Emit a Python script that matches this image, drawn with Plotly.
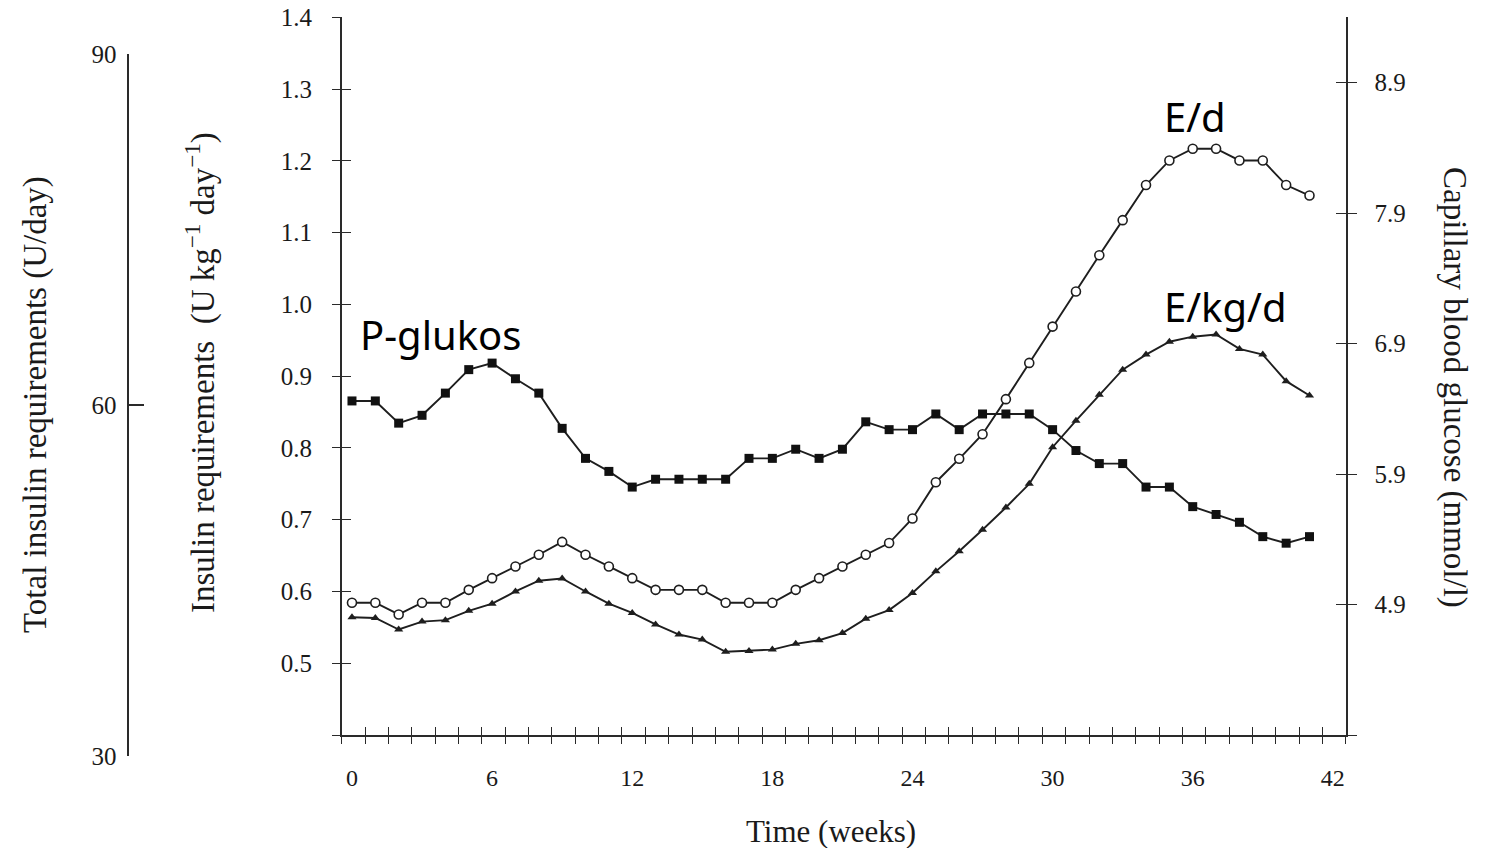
import plotly.graph_objects as go

# Weekly observations through pregnancy
weeks = list(range(42))

# Capillary blood glucose (mmol/l) - filled squares, right axis
glucose_mmol = [6.46, 6.46, 6.29, 6.35, 6.52, 6.70, 6.75, 6.63, 6.52, 6.25,
                6.02, 5.92, 5.80, 5.86, 5.86, 5.86, 5.86, 6.02, 6.02, 6.09,
                6.02, 6.09, 6.30, 6.24, 6.24, 6.36, 6.24, 6.36, 6.36, 6.36,
                6.24, 6.08, 5.98, 5.98, 5.80, 5.80, 5.65, 5.59, 5.53, 5.42,
                5.37, 5.42]

# Total insulin requirement (U/day) - open circles, outer left axis
insulin_total = [43.1, 43.1, 42.1, 43.1, 43.1, 44.2, 45.2, 46.2, 47.2, 48.3,
                 47.2, 46.2, 45.2, 44.2, 44.2, 44.2, 43.1, 43.1, 43.1, 44.2,
                 45.2, 46.2, 47.2, 48.2, 50.3, 53.4, 55.4, 57.5, 60.5, 63.6,
                 66.7, 69.7, 72.8, 75.8, 78.8, 80.9, 81.9, 81.9, 80.9, 80.9,
                 78.8, 77.9]

# Insulin requirement per kg (U kg-1 day-1) - filled triangles, inner left axis
insulin_per_kg = [0.564, 0.563, 0.547, 0.558, 0.560, 0.573, 0.583, 0.600, 0.615, 0.618,
                  0.600, 0.583, 0.570, 0.554, 0.540, 0.533, 0.516, 0.517, 0.519, 0.527,
                  0.532, 0.542, 0.562, 0.574, 0.598, 0.628, 0.656, 0.686, 0.717, 0.750,
                  0.801, 0.838, 0.874, 0.909, 0.930, 0.948, 0.955, 0.958, 0.938, 0.930,
                  0.893, 0.873]

x_labels = [0, 6, 12, 18, 24, 30, 36, 42]
kg_ticks = [0.5, 0.6, 0.7, 0.8, 0.9, 1.0, 1.1, 1.2, 1.3, 1.4]
glucose_ticks = [4.9, 5.9, 6.9, 7.9, 8.9]
total_ticks = [30, 60, 90]

W, H = 1496, 848
X_RANGE = [-0.44, 42.55]
KG_RANGE = [0.4, 1.4]
GLU_RANGE = [3.9, 9.4]
TOTAL_RANGE = [30, 90]

# weekly tick marks sit half a week off the labelled weeks
week_marks = [X_RANGE[0] + 0.001] + [k + 0.56 for k in range(42)] + [X_RANGE[1] - 0.001]

SERIF = "Liberation Serif, Times New Roman, serif"
SANS = "Noto Sans, Open Sans, sans-serif"
INK = "#1e1e1e"
AXIS = "#2a2a2a"
TEXT = "#1a1a1a"


def px_x(p):
    return p / W


def px_y(p):
    return 1 - p / H


x_dom = [px_x(341.7), px_x(1345.7)]
y_dom = [px_y(735), px_y(17.3)]
y_total_dom = [px_y(756), px_y(54)]

fig = go.Figure()

line_style = dict(color=INK, width=1.9)

fig.add_trace(go.Scatter(
    x=weeks, y=insulin_total, xaxis="x", yaxis="y3", mode="lines+markers",
    line=line_style,
    marker=dict(symbol="circle", size=9, color="white", line=dict(color=INK, width=1.6)),
    name="E/d", showlegend=False, cliponaxis=False))

fig.add_trace(go.Scatter(
    x=weeks, y=insulin_per_kg, xaxis="x", yaxis="y", mode="lines+markers",
    line=line_style,
    marker=dict(symbol="triangle-up", size=8, color=INK),
    name="E/kg/d", showlegend=False, cliponaxis=False))

fig.add_trace(go.Scatter(
    x=weeks, y=glucose_mmol, xaxis="x", yaxis="y2", mode="lines+markers",
    line=line_style,
    marker=dict(symbol="square", size=9, color="#111111"),
    name="P-glukos", showlegend=False, cliponaxis=False))

# empty placeholders so the tick-only overlay axes get rendered
for xa, ya in [("x2", "y4"), ("x3", "y5")]:
    fig.add_trace(go.Scatter(x=[None], y=[None], xaxis=xa, yaxis=ya, mode="markers",
                             showlegend=False, hoverinfo="skip"))

tick_font = dict(family=SERIF, size=25, color=TEXT)

fig.update_layout(
    width=W, height=H,
    margin=dict(l=0, r=0, t=0, b=0, autoexpand=False),
    paper_bgcolor="white",
    plot_bgcolor="rgba(0,0,0,0)",
    showlegend=False,
    # time axis: labels and baseline
    xaxis=dict(domain=x_dom, range=X_RANGE, anchor="y",
               tickmode="array", tickvals=x_labels, ticktext=[str(v) for v in x_labels],
               ticks="", showgrid=False, zeroline=False,
               showline=True, linecolor=AXIS, linewidth=1.6,
               tickfont=dict(family=SERIF, size=24, color=TEXT),
               ticklabelstandoff=20),
    # weekly marks below and above the baseline
    xaxis2=dict(domain=x_dom, range=X_RANGE, overlaying="x", anchor="y",
                tickmode="array", tickvals=week_marks, ticks="outside", ticklen=8,
                tickwidth=1.4, tickcolor=AXIS, showticklabels=False,
                showgrid=False, zeroline=False, showline=False),
    xaxis3=dict(domain=x_dom, range=X_RANGE, overlaying="x", anchor="y",
                tickmode="array", tickvals=week_marks, ticks="inside", ticklen=8,
                tickwidth=1.4, tickcolor=AXIS, showticklabels=False,
                showgrid=False, zeroline=False, showline=False),
    # insulin per kg (inner left): labels with inner half of the ticks
    yaxis=dict(domain=y_dom, range=KG_RANGE, anchor="x", side="left",
               tickmode="array", tickvals=kg_ticks,
               ticktext=[f"{v:.1f}" for v in kg_ticks],
               ticks="inside", ticklen=9, tickwidth=1.4, tickcolor=AXIS,
               showgrid=False, zeroline=False,
               showline=True, linecolor=AXIS, linewidth=1.6,
               tickfont=tick_font, ticklabelstandoff=23),
    # outer half of the ticks
    yaxis4=dict(domain=y_dom, range=KG_RANGE, overlaying="y", anchor="x", side="left",
                tickmode="array", tickvals=[0.4] + kg_ticks,
                ticks="outside", ticklen=9, tickwidth=1.4, tickcolor=AXIS,
                showticklabels=False, showgrid=False, zeroline=False, showline=False),
    # capillary glucose (right): labels with inner half of the ticks
    yaxis2=dict(domain=y_dom, range=GLU_RANGE, overlaying="y", anchor="x", side="right",
                tickmode="array", tickvals=glucose_ticks,
                ticktext=[f"{v:.1f}" for v in glucose_ticks],
                ticks="inside", ticklen=10, tickwidth=1.4, tickcolor=AXIS,
                showgrid=False, zeroline=False,
                showline=True, linecolor=AXIS, linewidth=1.6,
                tickfont=tick_font, ticklabelstandoff=22),
    yaxis5=dict(domain=y_dom, range=GLU_RANGE, overlaying="y", anchor="x", side="right",
                tickmode="array", tickvals=[3.9] + glucose_ticks,
                ticks="outside", ticklen=10, tickwidth=1.4, tickcolor=AXIS,
                showticklabels=False, showgrid=False, zeroline=False, showline=False),
    # total insulin (outer left)
    yaxis3=dict(domain=y_total_dom, range=TOTAL_RANGE, anchor="free",
                position=px_x(128.3), side="left",
                tickmode="array", tickvals=total_ticks, ticktext=[str(v) for v in total_ticks],
                ticks="inside", ticklen=15, tickwidth=1.6, tickcolor=AXIS,
                showgrid=False, zeroline=False,
                showline=True, linecolor=AXIS, linewidth=1.6,
                tickfont=tick_font, ticklabelstandoff=6),
)

title_font = dict(family=SERIF, size=33, color=TEXT)
annotations = [
    dict(text="Total insulin requirements (U/day)", x=px_x(35), y=px_y(405),
         textangle=-90, font=title_font),
    dict(text="Insulin requirements  (U kg<sup>\u22121</sup> day<sup>\u22121</sup>)",
         x=px_x(200), y=px_y(373), textangle=-90, font=title_font),
    dict(text="Capillary blood glucose (mmol/l)", x=px_x(1455), y=px_y(387),
         textangle=90, font=title_font),
    dict(text="Time (weeks)", x=px_x(831), y=px_y(831), font=dict(family=SERIF, size=31, color=TEXT)),
]
label_font = dict(family=SANS, size=40, color="black")
for txt, lx, ly in [("P-glukos", 358, 334), ("E/d", 1162, 116), ("E/kg/d", 1162, 306)]:
    annotations.append(dict(text=txt, x=px_x(lx), y=px_y(ly), xanchor="left",
                            yanchor="middle", font=label_font))

for a in annotations:
    a.setdefault("xanchor", "center")
    a.setdefault("yanchor", "middle")
    a.update(xref="paper", yref="paper", showarrow=False)

fig.update_layout(annotations=annotations)

fig.write_html("out.html")
